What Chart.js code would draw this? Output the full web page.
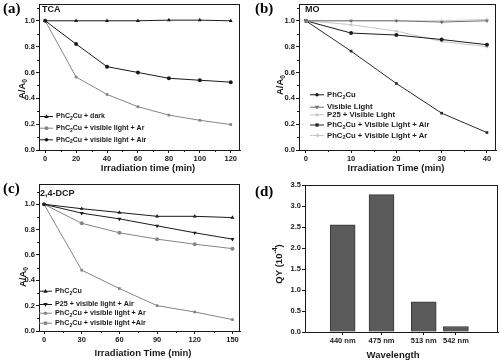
<!DOCTYPE html>
<html>
<head>
<meta charset="utf-8">
<script src="https://cdn.jsdelivr.net/npm/chart.js@4.4.0/dist/chart.umd.min.js"></script>
<style>
  body { margin: 0; background: #fff; }
  #wrap { position: relative; width: 500px; height: 361px; }
  canvas { position: absolute; }
</style>
</head>
<body>
<div id="wrap">
  <canvas id="ca" width="250" height="180" style="left:0;top:0"></canvas>
  <canvas id="cb" width="250" height="180" style="left:250px;top:0"></canvas>
  <canvas id="cc" width="250" height="181" style="left:0;top:180px"></canvas>
  <canvas id="cd" width="250" height="181" style="left:250px;top:180px"></canvas>
</div>
<script>
// ---- data ----
// (a) TCA
const timeA = [0, 20, 40, 60, 80, 100, 120];
const tcaDark = [1.0, 1.0, 1.0, 1.0, 1.005, 1.005, 1.0];
const tcaAr = [1.0, 0.565, 0.43, 0.335, 0.27, 0.23, 0.197];
const tcaAir = [1.0, 0.82, 0.645, 0.60, 0.555, 0.54, 0.525];

// (b) MO
const timeB = [0, 10, 20, 30, 40];
const moPhC2Cu = [1.0, 0.905, 0.89, 0.855, 0.815];
const moVisible = [1.0, 1.0, 1.0, 0.99, 1.0];
const moP25 = [1.0, 1.0, 1.0, 1.0, 1.01];
const moAir = [1.0, 0.765, 0.515, 0.285, 0.135];
const moAr = [1.0, 0.97, 0.92, 0.84, 0.80];

// (c) 2,4-DCP
const timeC = [0, 30, 60, 90, 120, 150];
const dcpPhC2Cu = [1.0, 0.965, 0.935, 0.905, 0.905, 0.895];
const dcpP25Air = [1.0, 0.93, 0.885, 0.83, 0.775, 0.725];
const dcpAr = [1.0, 0.85, 0.775, 0.725, 0.685, 0.65];
const dcpAir = [1.0, 0.48, 0.335, 0.20, 0.15, 0.09];

// (d) quantum yield
const wavelengths = [440, 475, 513, 542];
const qy = [2.55, 3.27, 0.72, 0.13];

const ticksA = [0, 20, 40, 60, 80, 100, 120];
const ticksB = [0, 10, 20, 30, 40];
const ticksC = [0, 30, 60, 90, 120, 150];
const ticksRatio = [0, 0.2, 0.4, 0.6, 0.8, 1.0];
const ticksQY = [0, 0.5, 1.0, 1.5, 2.0, 2.5, 3.0, 3.5];

const FONT = '"Liberation Sans", Arial, sans-serif';
const BLACK = '#1a1a1a';

// text with _{sub} and ^{sup}
function parseRich(s) {
  const parts = [];
  const re = /_\{([^}]*)\}|\^\{([^}]*)\}/g;
  let last = 0, m;
  while ((m = re.exec(s))) {
    if (m.index > last) parts.push({ t: s.slice(last, m.index), k: 'n' });
    if (m[1] !== undefined) parts.push({ t: m[1], k: 'sub' });
    else parts.push({ t: m[2], k: 'sup' });
    last = re.lastIndex;
  }
  if (last < s.length) parts.push({ t: s.slice(last), k: 'n' });
  return parts;
}

function drawRich(ctx, s, x, y, size, align) {
  const parts = parseRich(s);
  const fontOf = k => 'bold ' + (k === 'n' ? size : size * 0.72) + 'px ' + FONT;
  let w = 0;
  parts.forEach(p => { ctx.font = fontOf(p.k); p.w = ctx.measureText(p.t).width; w += p.w; });
  let cx = align === 'center' ? x - w / 2 : x;
  ctx.textAlign = 'left';
  ctx.textBaseline = 'middle';
  parts.forEach(p => {
    ctx.font = fontOf(p.k);
    let dy = 0;
    if (p.k === 'sub') dy = size * 0.32;
    if (p.k === 'sup') dy = -size * 0.38;
    ctx.fillText(p.t, cx, y + dy);
    cx += p.w;
  });
}

function marker(ctx, style, rot, x, y, r, color) {
  ctx.save();
  ctx.translate(x, y);
  ctx.rotate(rot * Math.PI / 180);
  ctx.fillStyle = color;
  ctx.beginPath();
  if (style === 'circle') {
    ctx.arc(0, 0, r * 0.85, 0, Math.PI * 2);
  } else if (style === 'rect') {
    ctx.rect(-r * 0.8, -r * 0.8, r * 1.6, r * 1.6);
  } else {
    ctx.moveTo(0, -r * 1.1);
    ctx.lineTo(r * 1.05, r * 0.7);
    ctx.lineTo(-r * 1.05, r * 0.7);
    ctx.closePath();
  }
  ctx.fill();
  ctx.restore();
}

const panelPlugin = {
  id: 'panel',
  afterDraw(chart) {
    const cfg = chart.options.plugins.panel;
    const ctx = chart.ctx;
    const a = chart.chartArea;
    ctx.save();
    // frame
    ctx.strokeStyle = BLACK;
    ctx.lineWidth = 1;
    ctx.strokeRect(Math.round(a.left) + 0.5, Math.round(a.top) + 0.5,
      Math.round(a.right - a.left) - 1, Math.round(a.bottom - a.top));
    // minor ticks
    const xs = chart.scales.x, ys = chart.scales.y;
    ctx.beginPath();
    (cfg.minorX || []).forEach(v => {
      const px = Math.round(xs.getPixelForValue(v)) + 0.5;
      ctx.moveTo(px, a.bottom); ctx.lineTo(px, a.bottom + 2);
    });
    (cfg.minorY || []).forEach(v => {
      const py = Math.round(ys.getPixelForValue(v)) + 0.5;
      ctx.moveTo(a.left, py); ctx.lineTo(a.left - 2, py);
    });
    ctx.stroke();
    // panel letter
    ctx.fillStyle = '#000';
    ctx.font = 'bold 15px "Liberation Serif", "Times New Roman", serif';
    ctx.textAlign = 'left';
    ctx.textBaseline = 'middle';
    ctx.fillText(cfg.letter, cfg.letterPos[0], cfg.letterPos[1]);
    // inner label
    if (cfg.inner) {
      ctx.font = 'bold 9px ' + FONT;
      ctx.fillStyle = BLACK;
      ctx.fillText(cfg.inner, cfg.innerPos[0], cfg.innerPos[1]);
    }
    // legend
    (cfg.legend || []).forEach(e => {
      ctx.strokeStyle = e.color;
      ctx.lineWidth = 1;
      ctx.beginPath();
      ctx.moveTo(cfg.legX[0], e.y + 0.5);
      ctx.lineTo(cfg.legX[1], e.y + 0.5);
      ctx.stroke();
      marker(ctx, e.style, e.rot || 0, (cfg.legX[0] + cfg.legX[1]) / 2, e.y + 0.5, 2.1, e.color);
      ctx.fillStyle = BLACK;
      drawRich(ctx, e.text, cfg.legX[2], e.y + 0.5, cfg.legSize, 'left');
    });
    // axis titles
    ctx.fillStyle = BLACK;
    drawRich(ctx, cfg.xTitle, cfg.xTitlePos[0], cfg.xTitlePos[1], 9.5, 'center');
    ctx.translate(cfg.yTitlePos[0], cfg.yTitlePos[1]);
    ctx.rotate(-Math.PI / 2);
    drawRich(ctx, cfg.yTitle, 0, 0, 9.5, 'center');
    ctx.restore();
  }
};

function lineSet(data, xs, color, style, rot) {
  return {
    data: xs.map((x, i) => ({ x: x, y: data[i] })),
    borderColor: color,
    backgroundColor: color,
    borderWidth: 1,
    pointStyle: style,
    rotation: rot || 0,
    pointRadius: style === 'rect' ? 1.9 : (style === 'circle' ? 2 : 2.3),
    pointBorderWidth: 0,
    tension: 0
  };
}

function scaleOpts(min, max, ticks, fmt, fixSize) {
  return {
    type: 'linear',
    min: min,
    max: max,
    afterBuildTicks: s => { s.ticks = ticks.map(v => ({ value: v })); },
    afterFit: s => {
      fixSize(s);
      // keep the plot box where it is in the figure
      s.paddingTop = 0; s.paddingBottom = 0; s.paddingLeft = 0; s.paddingRight = 0;
    },
    grid: { drawOnChartArea: false, color: BLACK, tickLength: 3, offset: false },
    border: { color: BLACK },
    ticks: {
      color: BLACK,
      font: { family: FONT, size: 7.5, weight: 'bold' },
      padding: 1,
      autoSkip: false,
      maxRotation: 0,
      callback: fmt
    }
  };
}

function makePanel(id, type, datasets, p) {
  const H = document.getElementById(id).height;
  new Chart(document.getElementById(id), {
    type: type,
    data: { datasets: datasets },
    options: {
      responsive: false,
      animation: false,
      layout: { padding: { left: 0, top: p.area[1], right: 250 - p.area[2], bottom: 0 } },
      scales: {
        x: scaleOpts(p.xMin, p.xMax, p.xTicks, p.xFmt || (v => v),
          s => { s.height = H - p.area[3]; }),
        y: scaleOpts(p.yMin, p.yMax, p.yTicks, v => v.toFixed(1),
          s => { s.width = p.area[0]; })
      },
      plugins: {
        legend: { display: false },
        tooltip: { enabled: false },
        panel: p
      }
    },
    plugins: [panelPlugin]
  });
}

const GRAY = '#858585';
const LIGHT = '#c8c8c8';

// (a)
makePanel('ca', 'line', [
  lineSet(tcaDark, timeA, BLACK, 'triangle'),
  lineSet(tcaAir, timeA, BLACK, 'circle'),
  lineSet(tcaAr, timeA, GRAY, 'rect')
], {
  area: [39, 3, 240, 150], xMin: -4, xMax: 126, yMin: 0, yMax: 1.13,
  xTicks: ticksA, yTicks: ticksRatio,
  minorX: [10, 30, 50, 70, 90, 110], minorY: [0.1, 0.3, 0.5, 0.7, 0.9, 1.1],
  letter: '(a)', letterPos: [3, 9], inner: 'TCA', innerPos: [42, 10],
  legX: [40, 53, 56], legSize: 7,
  legend: [
    { text: 'PhC_{2}Cu + dark', y: 116, color: BLACK, style: 'triangle' },
    { text: 'PhC_{2}Cu + visible light + Ar', y: 127.7, color: GRAY, style: 'rect' },
    { text: 'PhC_{2}Cu + visible light + Air', y: 139.3, color: BLACK, style: 'circle' }
  ],
  xTitle: 'Irradiation time (min)', xTitlePos: [148, 168],
  yTitle: 'A/A_{0}', yTitlePos: [22, 89]
});

// (b)
makePanel('cb', 'line', [
  lineSet(moVisible, timeB, '#707070', 'triangle', 180),
  lineSet(moP25, timeB, LIGHT, 'triangle'),
  lineSet(moPhC2Cu, timeB, BLACK, 'circle'),
  lineSet(moAr, timeB, LIGHT, 'triangle', -90),
  lineSet(moAir, timeB, '#2a2a2a', 'rect')
], {
  area: [49, 3, 248, 150], xMin: -1.5, xMax: 42, yMin: 0, yMax: 1.13,
  xTicks: ticksB, yTicks: ticksRatio,
  minorX: [5, 15, 25, 35], minorY: [0.1, 0.3, 0.5, 0.7, 0.9, 1.1],
  letter: '(b)', letterPos: [5, 9], inner: 'MO', innerPos: [55, 10],
  legX: [60, 74, 77], legSize: 7.7,
  legend: [
    { text: 'PhC_{2}Cu', y: 94.3, color: BLACK, style: 'circle' },
    { text: 'Visible Light', y: 106.7, color: '#707070', style: 'triangle', rot: 180 },
    { text: 'P25 + Visible Light', y: 114.3, color: LIGHT, style: 'triangle' },
    { text: 'PhC_{2}Cu + Visible Light + Air', y: 124.5, color: '#2a2a2a', style: 'rect' },
    { text: 'PhC_{2}Cu + Visible Light + Ar', y: 135, color: LIGHT, style: 'triangle', rot: -90 }
  ],
  xTitle: 'Irradiation Time (min)', xTitlePos: [146, 168],
  yTitle: 'A/A_{0}', yTitlePos: [30, 85]
});

// (c)
makePanel('cc', 'line', [
  lineSet(dcpPhC2Cu, timeC, BLACK, 'triangle'),
  lineSet(dcpP25Air, timeC, BLACK, 'triangle', 180),
  lineSet(dcpAr, timeC, GRAY, 'circle'),
  lineSet(dcpAir, timeC, GRAY, 'rect')
], {
  area: [39, 3, 240, 151], xMin: -4, xMax: 156, yMin: 0, yMax: 1.16,
  xTicks: ticksC, yTicks: ticksRatio,
  minorX: [15, 45, 75, 105, 135], minorY: [0.1, 0.3, 0.5, 0.7, 0.9, 1.1],
  letter: '(c)', letterPos: [3, 9], inner: '2,4-DCP', innerPos: [40, 14],
  legX: [39, 52, 55], legSize: 7.2,
  legend: [
    { text: 'PhC_{2}Cu', y: 110.7, color: BLACK, style: 'triangle' },
    { text: 'P25 + visible light + Air', y: 124, color: BLACK, style: 'triangle', rot: 180 },
    { text: 'PhC_{2}Cu + visible light + Ar', y: 132.7, color: GRAY, style: 'circle' },
    { text: 'PhC_{2}Cu + visible light +Air', y: 142.7, color: GRAY, style: 'rect' }
  ],
  xTitle: 'Irradiation Time (min)', xTitlePos: [143, 173],
  yTitle: 'A/A_{0}', yTitlePos: [23, 97]
});

// (d)
makePanel('cd', 'bar', [{
  data: wavelengths.map((w, i) => ({ x: w, y: qy[i] })),
  backgroundColor: '#5a5a5a',
  borderColor: '#383838',
  borderWidth: 1,
  barThickness: 25
}], {
  area: [55, 5, 248, 152], xMin: 427.8, xMax: 558.2, yMin: 0, yMax: 3.5,
  xTicks: wavelengths, yTicks: ticksQY, xFmt: v => v + ' nm',
  minorX: [], minorY: [],
  letter: '(d)', letterPos: [5, 12],
  xTitle: 'Wavelength', xTitlePos: [143, 175],
  yTitle: 'QY (10^{-4})', yTitlePos: [29, 84]
});
</script>
</body>
</html>
